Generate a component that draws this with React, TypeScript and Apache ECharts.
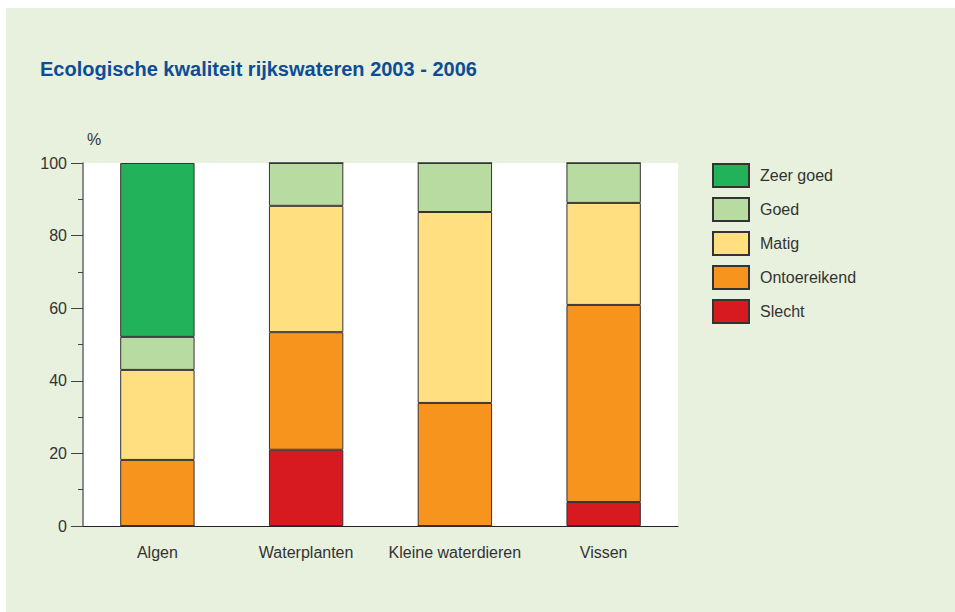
import React, { useEffect, useRef } from "react";
import * as echarts from "echarts";

const categories = ["Algen", "Waterplanten", "Kleine waterdieren", "Vissen"];
const slecht = [0, 21, 0, 6.6];
const ontoereikend = [18.2, 32.4, 33.9, 54.3];
const matig = [24.8, 34.8, 52.6, 28.1];
const goed = [9.1, 11.8, 13.5, 11];
const zeerGoed = [47.9, 0, 0, 0];
const legendOrder = ["Zeer goed", "Goed", "Matig", "Ontoereikend", "Slecht"];
const yTicks = [0, 20, 40, 60, 80, 100];

const colors: Record<string, string> = {
  "Zeer goed": "#22b259",
  Goed: "#b7dba1",
  Matig: "#ffdf80",
  Ontoereikend: "#f7941e",
  Slecht: "#d71920",
};

const FONT = "Liberation Sans, Arial, sans-serif";

export default function App() {
  const ref = useRef<HTMLDivElement>(null);
  useEffect(() => {
    document.body.style.margin = "0";
    const chart = echarts.init(ref.current!, null, { renderer: "svg" });
    const mk = (name: string, data: number[]) => ({
      name,
      type: "bar",
      stack: "total",
      data,
      barWidth: "50%",
      itemStyle: { color: colors[name], borderColor: "#333", borderWidth: 1 },
    });
    chart.setOption({
      animation: false,
      backgroundColor: "#ffffff",
      textStyle: { fontFamily: FONT },
      graphic: [
        {
          type: "rect",
          z: -10,
          silent: true,
          shape: { x: 6, y: 8, width: 949, height: 604 },
          style: { fill: "#e8f1de" },
        },
        {
          type: "text",
          left: 87,
          top: 131,
          style: { text: "%", fontSize: 16, fill: "#333", fontFamily: FONT },
        },
        {
          type: "text",
          left: 40,
          top: 59,
          style: {
            text: "Ecologische kwaliteit rijkswateren 2003 - 2006",
            fontSize: 20,
            fontWeight: "bold",
            fill: "#0d4d96",
            fontFamily: FONT,
          },
        },
      ],
      legend: {
        orient: "vertical",
        left: 712,
        top: 163,
        padding: 0,
        itemWidth: 36,
        itemHeight: 23,
        itemGap: 9,
        data: legendOrder,
        icon: "rect",
        textStyle: { fontSize: 16, color: "#333", padding: [0, 0, 0, 6] },
      },
      grid: {
        left: 83,
        right: 277,
        top: 163,
        bottom: 86,
        show: true,
        backgroundColor: "#ffffff",
        borderWidth: 0,
      },
      xAxis: {
        type: "category",
        data: categories,
        axisTick: { show: false },
        axisLine: { lineStyle: { color: "#222", width: 1.2 } },
        axisLabel: { fontSize: 16, color: "#333", margin: 18, interval: 0 },
      },
      yAxis: {
        type: "value",
        min: 0,
        max: 100,
        interval: 20,
        splitLine: { show: false },
        axisLine: { show: true, lineStyle: { color: "#666", width: 1.5 } },
        axisTick: { show: true, length: 12, lineStyle: { color: "#444" } },
        minorTick: { show: true, splitNumber: 2, length: 5, lineStyle: { color: "#444" } },
        axisLabel: {
          fontSize: 16,
          color: "#333",
          margin: 16,
          formatter: (v: number) => (yTicks.includes(v) ? String(v) : ""),
        },
      },
      series: [
        mk("Slecht", slecht),
        mk("Ontoereikend", ontoereikend),
        mk("Matig", matig),
        mk("Goed", goed),
        mk("Zeer goed", zeerGoed),
      ],
    });
    return () => chart.dispose();
  }, []);
  return <div ref={ref} style={{ width: 955, height: 612 }} />;
}
